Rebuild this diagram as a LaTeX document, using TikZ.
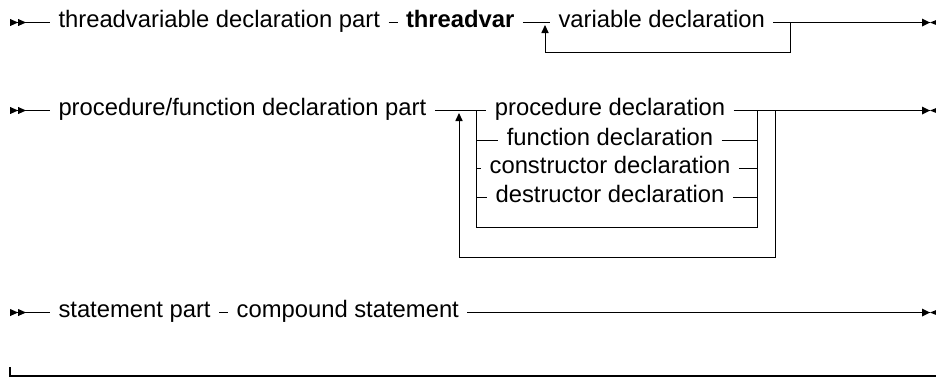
\documentclass[tikz,border=0pt]{standalone}
\usepackage{fontspec}
\setmainfont{Liberation Sans}
\usetikzlibrary{arrows.meta,positioning}

\newcommand\startmark[1]{\fill ([yshift=1.8pt]#1) -- ([xshift=4pt]#1) -- ([yshift=-1.8pt]#1) -- cycle
  ([xshift=4pt,yshift=1.8pt]#1) -- ([xshift=8pt]#1) -- ([xshift=4pt,yshift=-1.8pt]#1) -- cycle;}
\newcommand\stopmark[1]{\fill ([xshift=-4pt,yshift=2pt]#1) -- (#1) -- ([xshift=-4pt,yshift=-2pt]#1) -- cycle
  (#1) -- ([xshift=4pt,yshift=1.6pt]#1) -- ([xshift=4pt,yshift=-1.6pt]#1) -- cycle;}

\begin{document}
\begin{tikzpicture}[x=0.5pt,y=-0.5pt,line width=0.5pt,>={Triangle[length=4pt,width=3.6pt]},
  every node/.style={font=\fontsize{11.9}{14}\selectfont,inner xsep=4pt,inner ysep=2pt},
  kw/.style={font=\fontsize{11.9}{14}\selectfont\bfseries}]
\useasboundingbox (0,0) rectangle (936,377);

% threadvar part
\coordinate (s1) at (10,22.5);
\node[anchor=mid west] (tdp) at (50,22.5) {threadvariable declaration part};
\node[kw,right=4.5pt of tdp.mid east,anchor=mid west] (thv) {threadvar};
\node[anchor=mid west] (var) at (550,22.5) {variable declaration};
\coordinate (j1) at (545,25);
\coordinate (k1) at (790,22.5);
\coordinate (e1) at (930,22.5);
\draw (s1) -- (tdp.mid west);
\draw (tdp.mid east) -- (thv.mid west);
\draw (thv.mid east) -- (var.mid west);
\draw (var.mid east) -- (e1);
\draw[->] (k1) -- ++(0,29.5) -| (j1);
\startmark{s1}
\stopmark{e1}

% procedure/function part
\coordinate (s2) at (10,110.5);
\node[anchor=mid west] (pfd) at (50,110.5) {procedure/function declaration part};
\node[anchor=mid] (proc) at (610,110.5) {procedure declaration};
\node[anchor=mid] (func) at (610,140) {function declaration};
\node[anchor=mid] (cons) at (610,168.5) {constructor declaration};
\node[anchor=mid] (dest) at (610,197) {destructor declaration};
\coordinate (cl) at (476,110.5);
\coordinate (cr) at (757,110.5);
\coordinate (k2) at (775,110.5);
\coordinate (j2) at (459,113);
\coordinate (e2) at (930,110.5);
\draw (s2) -- (pfd.mid west);
\draw (pfd.mid east) -- (cl) -- (proc.mid west);
\draw (proc.mid east) -- (cr) -- (e2);
\draw (cl) -- ++(0,116.5) -| (cr);
\foreach \alt in {func,cons,dest} {
  \draw (cl |- \alt.mid) -- (\alt.mid west);
  \draw (\alt.mid east) -- (cr |- \alt.mid);
}
\draw[->] (k2) -- ++(0,146.5) -| (j2);
\startmark{s2}
\stopmark{e2}

% statement part
\coordinate (s3) at (10,312.5);
\node[anchor=mid west] (sp) at (50,312.5) {statement part};
\node[right=4.5pt of sp.mid east,anchor=mid west] (cs) {compound statement};
\coordinate (e3) at (930,312.5);
\draw (s3) -- (sp.mid west);
\draw (sp.mid east) -- (cs.mid west);
\draw (cs.mid east) -- (e3);
\startmark{s3}
\stopmark{e3}

% closing rule
\coordinate (b0) at (10,376);
\coordinate (b1) at (936,376);
\draw[line width=0.65pt] ([yshift=4.5pt]b0) -- (b0) -- (b1);
\end{tikzpicture}
\end{document}
